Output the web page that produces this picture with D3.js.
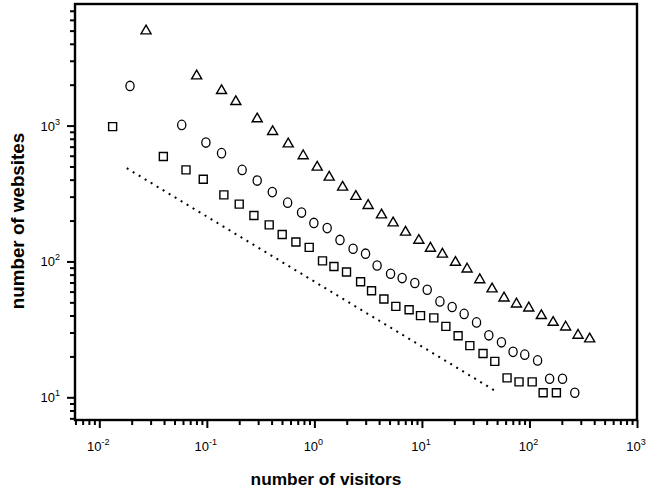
<!DOCTYPE html>
<html>
<head>
<meta charset="utf-8">
<script src="https://cdn.jsdelivr.net/npm/d3@7"></script>
<style>
  html, body { margin: 0; padding: 0; background: #fff; }
  svg { display: block; }
  text { font-family: "Liberation Sans", Arial, Helvetica, sans-serif; fill: #000; }
</style>
</head>
<body>
<svg id="chart" width="647" height="493"></svg>
<script>
// ---- data ----
const squaresX = [0.0133, 0.0394, 0.064, 0.0926, 0.144, 0.200, 0.274, 0.380, 0.502, 0.673, 0.895, 1.19, 1.52, 1.99, 2.69, 3.40, 4.43, 5.72, 7.60, 9.70, 12.9, 16.7, 21.7, 27.9, 37.0, 47.6, 61.9, 80.0, 106, 134, 178];
const squaresY = [983, 592, 472, 403, 309, 264, 218, 186, 158, 139, 127, 101, 91.9, 83.6, 70.9, 60.9, 52.9, 46.7, 44.1, 39.9, 38.4, 33.3, 28.4, 24.0, 21.0, 18.4, 13.9, 13.0, 13.0, 10.8, 10.8];

const circlesX = [0.0193, 0.0584, 0.098, 0.137, 0.213, 0.294, 0.406, 0.564, 0.760, 0.989, 1.315, 1.73, 2.29, 2.99, 3.83, 5.11, 6.55, 8.59, 11.2, 14.7, 19.1, 24.7, 32.2, 41.9, 54.9, 70.4, 90.4, 119, 154, 203, 264];
const circlesY = [1958, 1012, 750, 627, 472, 394, 324, 271, 229, 192, 176, 144, 124, 114, 93.4, 81.2, 75.5, 69.4, 61.9, 50.8, 46.2, 41.1, 35.6, 28.6, 25.4, 21.6, 20.6, 18.7, 13.7, 13.7, 10.8];

const trianglesX = [0.0272, 0.0804, 0.137, 0.186, 0.294, 0.409, 0.571, 0.787, 1.062, 1.373, 1.83, 2.43, 3.16, 4.21, 5.40, 7.04, 9.36, 12.0, 15.5, 20.5, 26.3, 34.5, 44.9, 58.0, 75.7, 98.5, 129, 166, 217, 283, 363];
const trianglesY = [4970, 2318, 1808, 1501, 1120, 903, 733, 599, 494, 417, 352, 301, 258, 220, 192, 164, 143, 125, 113, 98.4, 87.9, 73.3, 62.7, 53.8, 48.6, 45.4, 39.9, 35.6, 32.9, 28.6, 26.9];

// dotted guide line (power-law reference)
const guideX = [0.018, 49.5];
const guideY = [486, 11];

// tick labels: powers of ten
const xExponents = ["-2", "-1", "0", "1", "2", "3"];
const yExponents = ["1", "2", "3"];

const xTitle = "number of visitors";
const yTitle = "number of websites";

// ---- layout ----
const svg = d3.select("#chart");
svg.append("rect").attr("width", 647).attr("height", 493).attr("fill", "#fff");

const L = 75, R = 637, T = 4, B = 420;
const x = d3.scaleLog().domain([Math.pow(10, -2.226), 1000]).range([L, R]);
const y = d3.scaleLog().domain([Math.pow(10, 0.833), Math.pow(10, 3.895)]).range([B, T]);

function minorTicks(scale) {
  const [a, b] = scale.domain();
  const out = [];
  for (let e = Math.floor(Math.log10(a)); e <= Math.ceil(Math.log10(b)); e++) {
    for (let m = 2; m <= 9; m++) {
      const v = m * Math.pow(10, e);
      if (v >= a && v <= b) out.push(v);
    }
  }
  return out;
}

const xMajor = xExponents.map(e => Math.pow(10, +e));
const yMajor = yExponents.map(e => Math.pow(10, +e));

function styleAxis(g) {
  g.select(".domain").remove();
  g.selectAll(".tick line").attr("stroke", "#000").attr("stroke-width", 2);
}

svg.append("g").attr("transform", `translate(0,${B})`)
  .call(d3.axisBottom(x).tickValues(minorTicks(x)).tickSize(5).tickFormat(() => ""))
  .call(styleAxis);
svg.append("g").attr("transform", `translate(0,${B})`)
  .call(d3.axisBottom(x).tickValues(xMajor).tickSize(8).tickFormat(() => ""))
  .call(styleAxis);
svg.append("g").attr("transform", `translate(${L},0)`)
  .call(d3.axisLeft(y).tickValues(minorTicks(y)).tickSize(5).tickFormat(() => ""))
  .call(styleAxis);
svg.append("g").attr("transform", `translate(${L},0)`)
  .call(d3.axisLeft(y).tickValues(yMajor).tickSize(8).tickFormat(() => ""))
  .call(styleAxis);

// frame
svg.append("rect")
  .attr("x", L).attr("y", T).attr("width", R - L).attr("height", B - T)
  .attr("fill", "none").attr("stroke", "#000").attr("stroke-width", 2.4);

// x tick labels
xExponents.forEach(e => {
  const t = svg.append("text")
    .attr("x", x(Math.pow(10, +e)) - 1).attr("y", 451)
    .attr("text-anchor", "middle").attr("font-size", 13);
  t.append("tspan").text("10");
  t.append("tspan").attr("dy", -6).attr("font-size", 9).text(e);
});

// y tick labels
yExponents.forEach(e => {
  const t = svg.append("text")
    .attr("x", 60).attr("y", y(Math.pow(10, +e)) + 5)
    .attr("text-anchor", "end").attr("font-size", 13);
  t.append("tspan").text("10");
  t.append("tspan").attr("dy", -6).attr("font-size", 9).text(e);
});

// axis titles
svg.append("text").attr("x", 326).attr("y", 485)
  .attr("text-anchor", "middle").attr("font-size", 17.3).attr("font-weight", "bold")
  .text(xTitle);
svg.append("text").attr("transform", "translate(24,221) rotate(-90)")
  .attr("text-anchor", "middle").attr("font-size", 18.8).attr("font-weight", "bold")
  .text(yTitle);

// guide line
svg.append("path")
  .datum(guideX.map((v, i) => [v, guideY[i]]))
  .attr("d", d3.line().x(d => x(d[0])).y(d => y(d[1])))
  .attr("fill", "none").attr("stroke", "#000").attr("stroke-width", 2)
  .attr("stroke-dasharray", "2,5");

// markers
function drawSeries(xs, ys, type, size) {
  svg.append("g").selectAll("path")
    .data(xs.map((v, i) => [v, ys[i]]))
    .join("path")
    .attr("transform", d => `translate(${x(d[0])},${y(d[1])})`)
    .attr("d", d3.symbol().type(type).size(size))
    .attr("fill", "#fff").attr("stroke", "#000").attr("stroke-width", 1.4);
}
drawSeries(squaresX, squaresY, d3.symbolSquare, 64);
drawSeries(trianglesX, trianglesY, d3.symbolTriangle, 44);

// circles drawn as slightly tall ellipses, as in the reference
svg.append("g").selectAll("ellipse")
  .data(circlesX.map((v, i) => [v, circlesY[i]]))
  .join("ellipse")
  .attr("cx", d => x(d[0])).attr("cy", d => y(d[1]))
  .attr("rx", 4.1).attr("ry", 4.7)
  .attr("fill", "#fff").attr("stroke", "#000").attr("stroke-width", 1.3);
</script>
</body>
</html>
